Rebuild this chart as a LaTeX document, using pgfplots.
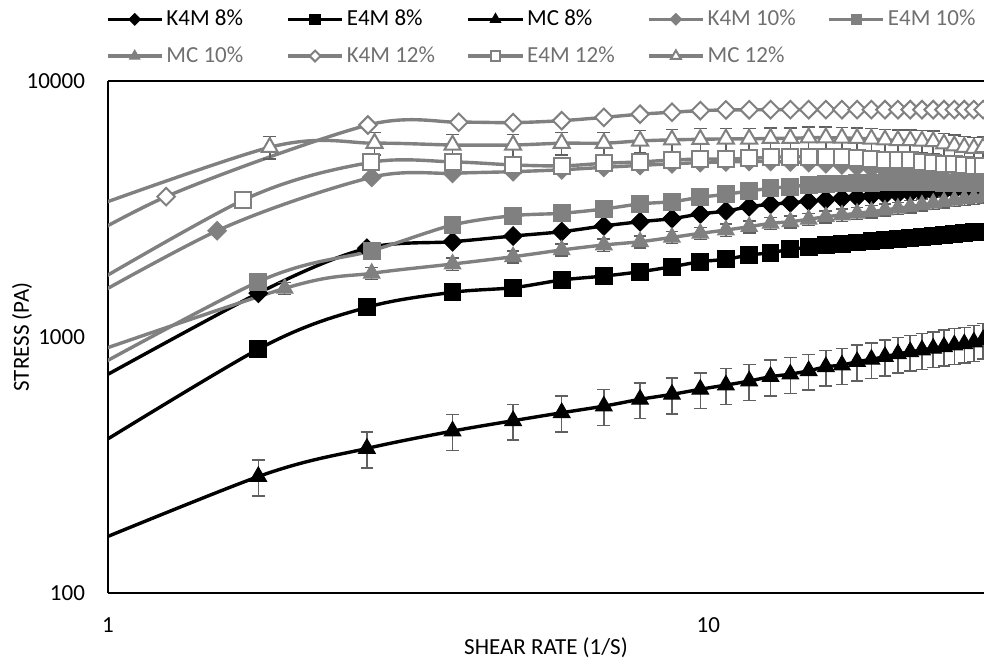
\documentclass[border=0pt]{standalone}
\usepackage{fontspec}
\setmainfont{Carlito}
\usepackage{pgfplots}
\pgfplotsset{compat=1.18}
\usepackage{pgfplotstable}
\definecolor{exgray}{HTML}{808080}
\definecolor{txtgray}{HTML}{707070}
\definecolor{errgray}{HTML}{606060}

\pgfplotstableread{
x y
0.7 451
1.78 1483
2.7 2221
3.75 2356
4.73 2480
5.7 2578
6.7 2716
7.7 2820
8.7 2900
9.7 3024
10.7 3105
11.7 3228
12.7 3300
13.7 3345
14.7 3390
15.7 3440
16.7 3483
17.7 3520
18.7 3556
19.7 3590
20.7 3622
21.7 3645
22.7 3665
23.7 3690
24.7 3718
25.7 3740
26.7 3760
27.7 3776
28.7 3790
29.7 3800
}\kfeight

\pgfplotstableread{
x y
0.7 239
1.78 896
2.7 1306
3.75 1495
4.73 1558
5.7 1670
6.7 1730
7.7 1799
8.7 1882
9.7 1969
10.7 2012
11.7 2090
12.7 2134
13.7 2201
14.7 2240
15.7 2280
16.7 2313
17.7 2340
18.7 2366
19.7 2391
20.7 2415
21.7 2438
22.7 2460
23.7 2483
24.7 2503
25.7 2523
26.7 2543
27.7 2563
28.7 2578
29.7 2590
}\efeight

\pgfplotstableread{
x y e
0.7 118 19
1.78 285 46
2.7 367 59
3.75 429 69
4.73 471 75
5.7 506 81
6.7 537 86
7.7 571 91
8.7 597 96
9.7 625 100
10.7 649 104
11.7 673 108
12.7 700 112
13.7 716 115
14.7 738 118
15.7 765 122
16.7 777 124
17.7 801 128
18.7 818 131
19.7 838 134
20.7 859 137
21.7 875 140
22.7 890 142
23.7 903 144
24.7 916 147
25.7 930 149
26.7 940 150
27.7 955 153
28.7 975 156
29.7 990 158
}\mceight

\pgfplotstableread{
x y
0.7 970
1.52 2600
2.75 4207
3.75 4360
4.73 4424
5.7 4500
6.7 4600
7.7 4680
8.7 4750
9.7 4800
10.7 4830
11.7 4850
12.7 4850
13.7 4830
14.7 4800
15.7 4750
16.7 4700
17.7 4620
18.7 4550
19.7 4480
20.7 4400
21.7 4330
22.7 4270
23.7 4220
24.7 4170
25.7 4120
26.7 4080
27.7 4050
28.7 4020
29.7 4000
}\kften

\pgfplotstableread{
x y
0.7 513
1.78 1644
2.75 2173
3.75 2738
4.73 2978
5.7 3043
6.7 3162
7.7 3311
8.7 3378
9.7 3514
10.7 3609
11.7 3718
12.7 3810
13.7 3866
14.7 3924
15.7 3960
16.7 3980
17.7 3995
18.7 4005
19.7 4010
20.7 4015
21.7 4015
22.7 4015
23.7 4010
24.7 4005
25.7 4000
26.7 3995
27.7 3990
28.7 3985
29.7 3980
}\eften

\pgfplotstableread{
x y e
0.7 681 34
1.97 1549 85
2.75 1774 97
3.75 1928 106
4.73 2059 113
5.7 2188 120
6.7 2288 126
7.7 2356 130
8.7 2450 135
9.7 2541 140
10.7 2617 144
11.7 2697 148
12.7 2780 153
13.7 2820 155
14.7 2884 159
15.7 2951 162
16.7 2996 165
17.7 3043 167
18.7 3087 170
19.7 3135 172
20.7 3184 175
21.7 3230 178
22.7 3280 180
23.7 3330 183
24.7 3378 186
25.7 3420 188
26.7 3460 190
27.7 3490 192
28.7 3532 194
29.7 3570 196
}\mcten

\pgfplotstableread{
x y
0.7 1703
1.25 3535
2.71 6730
3.84 6900
4.73 6875
5.7 7000
6.7 7210
7.7 7420
8.7 7550
9.7 7660
10.7 7710
11.7 7720
12.7 7730
13.7 7730
14.7 7730
15.7 7730
16.7 7730
17.7 7730
18.7 7730
19.7 7730
20.7 7730
21.7 7730
22.7 7730
23.7 7730
24.7 7730
25.7 7730
26.7 7730
27.7 7730
28.7 7730
29.7 7730
}\kftwelve

\pgfplotstableread{
x y
0.7 1070
1.68 3427
2.74 4810
3.76 4830
4.73 4700
5.7 4660
6.7 4770
7.7 4830
8.7 4914
9.7 4955
10.7 4955
11.7 4990
12.7 5035
13.7 5060
14.7 5060
15.7 5060
16.7 5035
17.7 5000
18.7 4955
19.7 4935
20.7 4914
21.7 4900
22.7 4830
23.7 4770
24.7 4740
25.7 4720
26.7 4700
27.7 4660
28.7 4660
29.7 4650
}\eftwelve

\pgfplotstableread{
x y e
0.7 2500 250
1.86 5510 551
2.78 5715 572
3.75 5623 562
4.73 5623 562
5.7 5715 572
6.7 5715 572
7.7 5834 583
8.7 5890 589
9.7 5920 592
10.7 5940 594
11.7 5940 594
12.7 5970 597
13.7 5970 597
14.7 6005 600
15.7 6005 600
16.7 5990 599
17.7 5970 597
18.7 5940 594
19.7 5890 589
20.7 5860 586
21.7 5850 585
22.7 5834 583
23.7 5800 580
24.7 5680 568
25.7 5585 558
26.7 5510 551
27.7 5460 546
28.7 5500 550
29.7 5550 555
}\mctwelve

\begin{document}
\begin{tikzpicture}
\begin{axis}[
  scale only axis, width=438pt, height=256pt,
  xmode=log, ymode=log,
  xmin=1, xmax=28.8, ymin=100, ymax=10000,
  axis x line*=box, axis y line*=left,
  axis line style={line width=1pt, black},
  xtick={1,10}, xticklabels={1,10},
  ytick={100,1000,10000}, yticklabels={100,1000,10000},
  minor xtick={}, minor ytick={},
  tick style={draw=none},
  tick label style={font=\fontsize{11.5}{13}\selectfont, text=black},
  xticklabel style={yshift=-9pt},
  yticklabel style={xshift=-8pt},
  every axis x label/.style={at={(rel axis cs:0.5,-0.1074)}, anchor=center},
  every axis y label/.style={at={(rel axis cs:-0.098,0.5)}, anchor=center, rotate=90},
  label style={font=\fontsize{11.5}{13}\selectfont},
  xlabel={SHEAR RATE (1/S)}, ylabel={STRESS (PA)},
  legend columns=5,
  legend style={at={(-0.0023,1.1426)}, anchor=north west, draw=none, fill=none,
    font=\fontsize{11.5}{13}\selectfont, inner sep=0pt, outer sep=0pt,
    nodes={inner xsep=1.5pt, inner ysep=1pt},
    /tikz/every even column/.append style={column sep=0pt},
    row sep=7pt},
  legend image code/.code={
    \draw[mark repeat=2, mark phase=2, #1, every mark/.append style={scale=0.62}]
      plot coordinates {(0pt,0pt) (13.5pt,0pt) (27pt,0pt)};},
  every axis plot/.append style={smooth, line width=1.7pt},
  error bars/error bar style={line width=0.75pt, color=errgray, solid},
  error bars/error mark options={line width=0.75pt, color=errgray, mark size=3.2pt, rotate=90},
]
\coordinate (bbl) at (rel axis cs:-0.12329,-0.14258);
\coordinate (btr) at (rel axis cs:1,1.1582);

\addplot[black, mark=square*, mark size=3.3pt, mark options={rotate=45, fill=black, line width=0.5pt}]
  table[x=x, y=y] {\kfeight};
\addlegendentry{\makebox[58.5pt][l]{K4M 8\%}}
\addplot[black, mark=square*, mark size=4.2pt, mark options={fill=black, line width=0.5pt}]
  table[x=x, y=y] {\efeight};
\addlegendentry{\makebox[58.5pt][l]{E4M 8\%}}
\addplot[black, mark=triangle*, mark size=4.8pt, mark options={fill=black, line width=0.5pt},
  error bars/.cd, y dir=both, y explicit]
  table[x=x, y=y, y error=e] {\mceight};
\addlegendentry{\makebox[58.5pt][l]{MC 8\%}}
\addplot[exgray, mark=square*, mark size=3.3pt, mark options={rotate=45, fill=exgray, line width=0.5pt}]
  table[x=x, y=y] {\kften};
\addlegendentry{\makebox[58.5pt][l]{\color{txtgray}K4M 10\%}}
\addplot[exgray, mark=square*, mark size=4.2pt, mark options={fill=exgray, line width=0.5pt}]
  table[x=x, y=y] {\eften};
\addlegendentry{\makebox[58.5pt][l]{\color{txtgray}E4M 10\%}}
\addplot[exgray, mark=triangle*, mark size=4.8pt, mark options={fill=exgray, line width=0.5pt},
  error bars/.cd, y dir=both, y explicit]
  table[x=x, y=y, y error=e] {\mcten};
\addlegendentry{\makebox[58.5pt][l]{\color{txtgray}MC 10\%}}
\addplot[exgray, mark=square*, mark size=3.1pt, mark options={rotate=45, fill=white, draw=exgray, line width=1pt}]
  table[x=x, y=y] {\kftwelve};
\addlegendentry{\makebox[58.5pt][l]{\color{txtgray}K4M 12\%}}
\addplot[exgray, mark=square*, mark size=4.0pt, mark options={fill=white, draw=exgray, line width=1pt}]
  table[x=x, y=y] {\eftwelve};
\addlegendentry{\makebox[58.5pt][l]{\color{txtgray}E4M 12\%}}
\addplot[exgray, mark=triangle*, mark size=4.6pt, mark options={fill=white, draw=exgray, line width=1pt},
  error bars/.cd, y dir=both, y explicit]
  table[x=x, y=y, y error=e] {\mctwelve};
\addlegendentry{\makebox[58.5pt][l]{\color{txtgray}MC 12\%}}
\end{axis}
\pgfresetboundingbox
\useasboundingbox (bbl) rectangle (btr);
\end{tikzpicture}
\end{document}
